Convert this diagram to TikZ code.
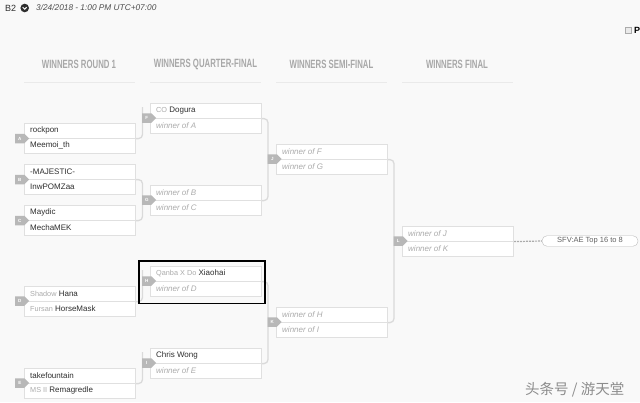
\documentclass[tikz,border=0pt]{standalone}
\usepackage{fontspec}
\setmainfont{Liberation Sans}
\newfontfamily\cjk{Noto Sans CJK SC}
\usetikzlibrary{shapes.symbols}
\definecolor{bg}{HTML}{F9F9F9}
\definecolor{boxline}{HTML}{E0E0E0}
\definecolor{connc}{HTML}{DADADA}
\definecolor{tagc}{HTML}{B8B8B8}
\definecolor{namec}{HTML}{2E2E2E}
\definecolor{seedc}{HTML}{ABABAB}
\definecolor{hdrc}{HTML}{A8A8A8}
\definecolor{hdrline}{HTML}{EAEAEA}
\newcommand\wof[1]{{\itshape\color{seedc}winner of #1}}
\newcommand\seedpre[1]{{\color{seedc}\fontsize{7.3}{8}\selectfont #1}\ }
\newcommand\mymatch[5]{%
  \node[matchbox] (#1) at (#2,#3) {};
  \draw[sepline] (#1.west) -- (#1.east);
  \node[slot] (#1-1) at ({#2+6},{#3+7.5}) {#4};
  \node[slot] (#1-2) at ({#2+6},{#3+22.5}) {#5};
}
\newcommand\mytag[3]{\node[tagst] (t#1) at (#2,#3) {#1};}
\begin{document}
\begin{tikzpicture}[x=1pt,y=-1pt,
  matchbox/.style={draw=boxline, line width=1.2pt, fill=white, minimum width=111pt, minimum height=30pt, inner sep=0pt, anchor=north west},
  sepline/.style={draw=boxline, line width=1pt},
  slot/.style={anchor=west, inner sep=0pt, font=\fontsize{8}{9.6}\selectfont, text=namec},
  conn/.style={draw=connc, line width=1.3pt, rounded corners=4pt},
  tagst/.style={shape=signal, signal to=east, fill=tagc, minimum width=14pt, minimum height=9.5pt, inner sep=0pt, text=white, font=\fontsize{4.5}{5}\selectfont\bfseries, anchor=west},
  hdr/.style={inner sep=0pt, text=hdrc, font=\fontsize{12}{14}\selectfont\bfseries},
  hdrrule/.style={draw=hdrline, line width=0.8pt}]
\useasboundingbox (0,0) rectangle (640,402);
\fill[bg] (0,0) rectangle (640,402);
% top bar
\node[anchor=west, inner sep=0pt, font=\fontsize{9}{10}\selectfont, text=namec] (b2) at (5,8) {B2};
\node[circle, fill=namec, minimum size=8.6pt, inner sep=0pt] (icon) at (24.7,8) {};
\draw[white, line width=1pt] ([shift={(-2,-0.8)}]icon.center) -- ([shift={(0,1.2)}]icon.center) -- ([shift={(2,-0.8)}]icon.center);
\node[anchor=west, inner sep=0pt, font=\fontsize{8.3}{10}\selectfont\itshape, text=namec!85] (date) at (36,8) {3/24/2018 - 1:00 PM UTC+07:00};
\node[draw=seedc, fill=hdrline, minimum size=6pt, inner sep=0pt] (chk) at (628,30) {};
\node[anchor=west, inner sep=0pt, font=\fontsize{9}{10}\selectfont\bfseries, text=black] (pl) at (634,30) {P};
% headers
\node[hdr] (h1) at (79,64) {\scalebox{0.65}[1]{WINNERS ROUND 1}};
\node[hdr] (h2) at (205.5,64) {\scalebox{0.65}[1]{WINNERS QUARTER-FINAL}};
\node[hdr] (h3) at (331.5,64) {\scalebox{0.65}[1]{WINNERS SEMI-FINAL}};
\node[hdr] (h4) at (457,64) {\scalebox{0.65}[1]{WINNERS FINAL}};
\draw[hdrrule] (24,82) -- (135,82);
\draw[hdrrule] (150,82) -- (261,82);
\draw[hdrrule] (276,82) -- (387,82);
\draw[hdrrule] (402,82) -- (513,82);
% matches
\mymatch{A}{24}{123}{rockpon}{Meemoi\_th}
\mymatch{B}{24}{164}{-MAJESTIC-}{InwPOMZaa}
\mymatch{C}{24}{205}{Maydic}{MechaMEK}
\mymatch{D}{24}{286}{\seedpre{Shadow}Hana}{\seedpre{Fursan}HorseMask}
\mymatch{E}{24}{368}{takefountain}{\seedpre{MS II}Remagredle}
\mymatch{F}{150}{103}{\seedpre{CO}Dogura}{\wof{A}}
\mymatch{G}{150}{185}{\wof{B}}{\wof{C}}
\mymatch{H}{150}{266}{\seedpre{Qanba X Do}Xiaohai}{\wof{D}}
\mymatch{I}{150}{348}{Chris Wong}{\wof{E}}
\mymatch{J}{276}{144}{\wof{F}}{\wof{G}}
\mymatch{K}{276}{307}{\wof{H}}{\wof{I}}
\mymatch{L}{402}{226}{\wof{J}}{\wof{K}}
% connectors
\coordinate (fTop) at (142.5,107);
\coordinate (hTop) at (142.5,270);
\coordinate (iTop) at (142.5,352);
\coordinate (gS) at (142.5,200);
\coordinate (jS) at (268,159);
\coordinate (kS) at (268,322);
\coordinate (lS) at (394,241);
\draw[conn] (A.east) -| (fTop);
\draw[conn] (B.east) -| (gS) |- (C.east);
\draw[conn] (D.east) -| (hTop);
\draw[conn] (E.east) -| (iTop);
\draw[conn] (F.east) -| (jS) |- (G.east);
\draw[conn] (H.east) -| (kS) |- (I.east);
\draw[conn] (J.east) -| (lS) |- (K.east);
% highlight
\draw[black, line width=1.5pt] (139,261) rectangle (265,303.5);
% tags
\mytag{A}{15}{138.5}
\mytag{B}{15}{179.5}
\mytag{C}{15}{220.5}
\mytag{D}{15}{301}
\mytag{E}{15}{383}
\mytag{F}{142}{118}
\mytag{G}{142}{200}
\mytag{H}{142}{281}
\mytag{I}{142}{363}
\mytag{J}{267.5}{159}
\mytag{K}{267.5}{322}
\mytag{L}{393.5}{241}
% final output
\node[draw=seedc!80, fill=white, rounded corners=5pt, minimum width=96pt, minimum height=10.5pt, inner sep=0pt, font=\fontsize{7.5}{8}\selectfont, text=namec!75] (pill) at (590,241) {SFV:AE Top 16 to 8};
\draw[draw=seedc, line width=1.2pt, dash pattern=on 2pt off 1pt] (L.east) -- (pill.west);
% watermark
\node[anchor=west, inner sep=0pt, font=\cjk\fontsize{14.5}{16}\selectfont, text=black!45] (wm) at (525,390) {头条号 / 游天堂};
\end{tikzpicture}
\end{document}
